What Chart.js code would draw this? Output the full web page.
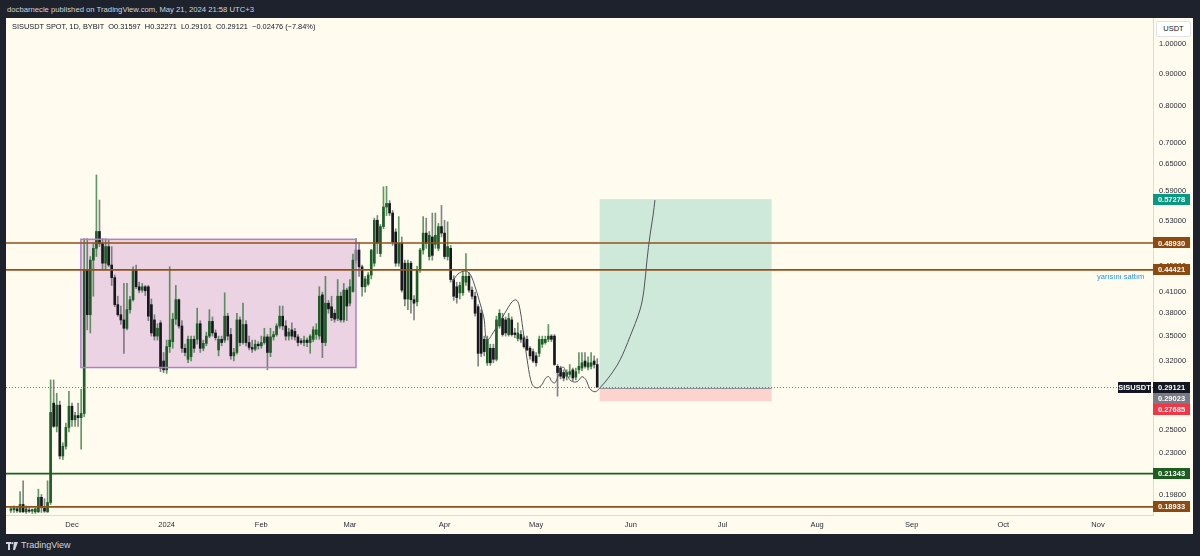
<!DOCTYPE html>
<html>
<head>
<meta charset="utf-8">
<script src="https://cdn.jsdelivr.net/npm/chart.js@4.4.1/dist/chart.umd.min.js"></script>
<style>
html,body{margin:0;padding:0;width:1200px;height:556px;overflow:hidden;background:#1e222d;font-family:"Liberation Sans",Arial,sans-serif;}
#hdr{position:absolute;left:7px;top:5px;font-size:7.7px;line-height:10px;color:#d1d4dc;white-space:nowrap;}
#panel{position:absolute;left:6px;top:18px;width:1187px;height:516px;background:#fffcef;}
#c{position:absolute;left:0;top:0;display:block;}
#legend{position:absolute;left:6px;top:4px;font-size:7.4px;line-height:10px;color:#131722;white-space:pre;}
#usdt{position:absolute;left:1150px;top:3px;width:33px;height:14px;background:#ffffff;border:1px solid #e0e3eb;border-radius:2px;font-size:7.5px;line-height:14px;text-align:center;color:#131722;}
#footer{position:absolute;left:6px;top:540px;font-size:9px;line-height:11px;color:#d1d4dc;white-space:nowrap;display:flex;align-items:center;gap:3px;}
#footer svg{display:block;}
</style>
</head>
<body>
<div id="hdr">docbarnecle published on TradingView.com, May 21, 2024 21:58 UTC+3</div>
<div id="panel">
  <canvas id="c" width="1187" height="516"></canvas>
  <div id="legend">SISUSDT SPOT, 1D, BYBIT  O0.31597  H0.32271  L0.29101  C0.29121  −0.02476 (−7.84%)</div>
  <div id="usdt">USDT</div>
</div>
<div id="footer"><svg width="12" height="8" viewBox="0 0 12 8"><rect x="0" y="0" width="5" height="2" fill="#d1d4dc"/><rect x="2" y="0" width="2" height="8" fill="#d1d4dc"/><circle cx="6.3" cy="1.2" r="1.1" fill="#d1d4dc"/><polygon points="8,0 12,0 9,8 7,8" fill="#d1d4dc"/></svg><span>TradingView</span></div>
<script>
// ---- data (days counted from 2023-11-01) ----
const FIRST_DAY = 10; // 2023-11-11
const opens = [.187,.1875,.188,.186,.191,.186,.187,.1865,.186,.186,
.196,.1885,.186,.1924,.275,.253,.273,.2274,.2355,.252,
.272,.259,.263,.261,.265,.444,.378,.460,.480,.510,
.488,.455,.483,.452,.432,.392,.378,.371,.360,.385,
.399,.444,.418,.413,.418,.418,.392,.371,.350,.367,
.320,.310,.337,.343,.372,.399,.363,.335,.322,.325,
.346,.346,.366,.335,.341,.350,.369,.354,.333,.346,
.345,.376,.352,.326,.330,.371,.342,.365,.342,.336,
.334,.340,.338,.342,.349,.330,.349,.352,.363,.376,
.363,.350,.358,.356,.349,.344,.342,.345,.342,.346,
.352,.350,.406,.342,.394,.389,.380,.373,.404,.371,
.413,.394,.411,.460,.477,.449,.418,.422,.436,.455,
.531,.471,.519,.557,.564,.545,.509,.455,.489,.455,
.400,.455,.399,.396,.444,.477,.507,.466,.500,.487,
.480,.519,.507,.466,.480,.429,.418,.409,.409,.425,
.434,.413,.404,.389,.380,.346,.318,.335,.335,.322,
.363,.373,.371,.352,.371,.354,.347,.352,.348,.346,
.335,.331,.326,.329,.340,.342,.346,.350,.350,.314,
.312,.307,.303,.305,.310,.302,.310,.312,.320,.313,
.314,.320,.31597];
const highs = [.189,.190,.189,.200,.208,.190,.189,.188,.1885,.2018,
.198,.195,.208,.299,.299,.285,.277,.2385,.256,.287,
.275,.266,.275,.289,.497,.497,.466,.489,.625,.571,
.497,.497,.494,.483,.436,.404,.390,.423,.423,.404,
.449,.452,.425,.423,.420,.420,.400,.378,.366,.370,
.330,.345,.449,.380,.420,.400,.370,.340,.350,.350,
.350,.387,.370,.345,.355,.385,.375,.358,.350,.350,
.409,.380,.360,.335,.380,.375,.394,.370,.350,.345,
.345,.343,.350,.360,.352,.360,.356,.366,.390,.390,
.370,.360,.367,.360,.352,.347,.350,.348,.352,.362,
.366,.418,.410,.434,.398,.404,.385,.429,.410,.423,
.416,.429,.470,.497,.490,.452,.434,.440,.478,.535,
.540,.523,.599,.600,.570,.550,.515,.538,.500,.460,
.460,.458,.405,.450,.480,.538,.535,.510,.545,.545,
.525,.560,.531,.528,.485,.435,.425,.425,.442,.471,
.440,.418,.410,.392,.385,.350,.350,.340,.340,.376,
.385,.380,.375,.380,.375,.360,.367,.357,.350,.350,
.337,.334,.330,.350,.350,.350,.365,.352,.352,.316,
.314,.310,.310,.316,.312,.312,.330,.330,.330,.325,
.330,.326,.32271];
const lows = [.1856,.1856,.1856,.1856,.1856,.1850,.1856,.1850,.1850,.1856,
.1856,.1856,.1856,.191,.252,.248,.225,.2245,.233,.248,
.253,.253,.253,.233,.262,.358,.354,.404,.466,.483,
.444,.444,.449,.420,.389,.376,.365,.329,.358,.380,
.397,.415,.409,.410,.405,.370,.350,.345,.345,.308,
.307,.306,.330,.335,.365,.360,.330,.326,.318,.320,
.330,.340,.330,.332,.338,.348,.350,.345,.326,.338,
.342,.345,.322,.320,.328,.338,.340,.338,.333,.330,
.332,.334,.335,.340,.310,.325,.345,.350,.360,.358,
.345,.345,.346,.345,.338,.340,.338,.337,.329,.343,
.346,.346,.324,.338,.380,.370,.368,.370,.368,.368,
.370,.390,.410,.455,.434,.404,.410,.420,.430,.450,
.471,.466,.515,.540,.540,.485,.450,.450,.410,.390,
.385,.380,.371,.390,.440,.470,.480,.460,.460,.480,
.476,.500,.462,.460,.425,.398,.394,.400,.405,.420,
.410,.400,.376,.314,.325,.326,.315,.315,.318,.320,
.360,.350,.350,.350,.350,.348,.344,.342,.335,.332,
.322,.318,.314,.325,.336,.340,.343,.343,.315,.282,
.300,.298,.299,.302,.298,.299,.306,.309,.312,.310,
.311,.312,.29101];
const closes = [.188,.1885,.1867,.191,.186,.188,.1865,.1875,.188,.196,
.189,.1865,.1924,.266,.253,.273,.2274,.2355,.252,.272,
.259,.263,.261,.265,.444,.378,.460,.480,.510,.488,
.455,.483,.452,.432,.392,.378,.371,.360,.385,.399,
.444,.418,.413,.418,.412,.376,.354,.350,.360,.312,
.310,.337,.345,.372,.399,.363,.335,.330,.346,.346,
.335,.366,.335,.341,.350,.369,.354,.348,.346,.342,
.376,.350,.326,.330,.371,.342,.365,.342,.336,.334,
.340,.338,.342,.349,.330,.349,.352,.363,.376,.363,
.350,.355,.350,.349,.342,.342,.345,.342,.350,.358,
.358,.404,.342,.394,.386,.374,.372,.404,.371,.413,
.390,.418,.460,.477,.449,.418,.430,.436,.477,.531,
.489,.519,.557,.564,.545,.491,.455,.489,.413,.400,
.455,.399,.394,.444,.477,.507,.489,.503,.468,.503,
.519,.507,.466,.483,.429,.404,.402,.420,.434,.434,
.413,.404,.380,.329,.329,.331,.346,.318,.322,.371,
.380,.352,.354,.373,.352,.352,.354,.346,.337,.333,
.326,.320,.318,.346,.346,.346,.350,.346,.316,.307,
.303,.301,.307,.308,.301,.308,.314,.318,.314,.318,
.318,.316,.29121];

// hand-drawn path (day, price)
const pathDays   = [154.8,156.4,158.7,160.3,161.6,163.3,164.9,165.9,168.5,171.8,174.1,175.4,176.4,177.7,179.3,180.6,182.0,183.6,185.2,186.2,187.2,188.2,189.5,190.8,192.1,193.4,195.4,197.0,198.3,199.6,201.3,202.9,206.2,209.5,212.7,216.0,217.3,218.3,219.3,220.3,220.9];
const pathPrices = [0.4269,0.4377,0.4425,0.4377,0.4238,0.3987,0.3737,0.3453,0.3580,0.3805,0.3959,0.3987,0.3916,0.3580,0.3157,0.2948,0.2906,0.2927,0.3013,0.3024,0.2970,0.2959,0.3057,0.3134,0.3046,0.2980,0.2970,0.3024,0.2991,0.2896,0.2865,0.2906,0.3035,0.3214,0.3491,0.3846,0.4133,0.4603,0.5036,0.5411,0.5710];

// axis ticks
const monthDays   = [30,61,92,121,152,182,213,243,274,305,335,366];
const monthLabels = ['Dec','2024','Feb','Mar','Apr','May','Jun','Jul','Aug','Sep','Oct','Nov'];
const priceTicks  = [1.0,0.9,0.8,0.7,0.65,0.59,0.53,0.45,0.41,0.38,0.35,0.32,0.25,0.23,0.198];

// drawings
const levelPrices = [0.48930,0.44421,0.21343,0.18933];
const levelColors = ['#93501a','#93501a','#1b5e20','#93501a'];
const rangeBox = {startDay:32.9,endDay:123.0,top:0.4958,bottom:0.3126};
const position = {startDay:202.8,endDay:259.1,entry:0.29023,target:0.57278,stop:0.27685};
const lastPrice = 0.29121;
const badgePrices = [0.57278,0.48930,0.44421,0.29121,0.29023,0.27685,0.21343,0.18933];
const badgeColors = ['#089981','#8b4a12','#8b4a12','#131722','#787b86','#f23645','#1b5e20','#8b4a12'];
const note = {text:'yarısını sattım',day:365.7,price:0.4325};

// view range
const X_MIN = 8.39, X_MAX = 384.0, Y_MIN = 0.1839, Y_MAX = 1.0992;

const days = opens.map((_, i) => FIRST_DAY + i);
const up = opens.map((o, i) => closes[i] >= o);

const overlay = {
  id:'overlay',
  beforeDatasetsDraw(chart){
    const {ctx, chartArea:a, scales:{x,y}} = chart;
    ctx.save();
    ctx.beginPath(); ctx.rect(a.left,a.top,a.right-a.left,a.bottom-a.top); ctx.clip();
    const px1 = x.getPixelForValue(position.startDay), px2 = x.getPixelForValue(position.endDay);
    const pe = y.getPixelForValue(position.entry), pt = y.getPixelForValue(position.target), ps = y.getPixelForValue(position.stop);
    ctx.fillStyle = 'rgba(8,153,129,0.2)'; ctx.fillRect(px1, pt, px2-px1, pe-pt);
    ctx.fillStyle = 'rgba(242,54,69,0.2)'; ctx.fillRect(px1, pe, px2-px1, ps-pe);
    const bx1 = x.getPixelForValue(rangeBox.startDay), bx2 = x.getPixelForValue(rangeBox.endDay);
    const by1 = y.getPixelForValue(rangeBox.top), by2 = y.getPixelForValue(rangeBox.bottom);
    ctx.fillStyle = 'rgba(156,39,176,0.19)'; ctx.fillRect(bx1, by1, bx2-bx1, by2-by1);
    ctx.restore();
  },
  afterDatasetsDraw(chart){
    const {ctx, chartArea:a, scales:{x,y}} = chart;
    ctx.save();
    ctx.beginPath(); ctx.rect(a.left,a.top,a.right-a.left,a.bottom-a.top); ctx.clip();
    const bx1 = x.getPixelForValue(rangeBox.startDay), bx2 = x.getPixelForValue(rangeBox.endDay);
    const by1 = y.getPixelForValue(rangeBox.top), by2 = y.getPixelForValue(rangeBox.bottom);
    ctx.strokeStyle = '#b27fca'; ctx.lineWidth = 1.5;
    ctx.strokeRect(bx1, by1, bx2-bx1, by2-by1);
    const px1 = x.getPixelForValue(position.startDay), px2 = x.getPixelForValue(position.endDay);
    const pe = Math.round(y.getPixelForValue(position.entry)) + 0.5;
    ctx.strokeStyle = '#8f929b'; ctx.lineWidth = 1;
    ctx.beginPath(); ctx.moveTo(px1, pe); ctx.lineTo(px2, pe); ctx.stroke();
    const lp = Math.round(y.getPixelForValue(lastPrice)) + 0.5;
    ctx.strokeStyle = '#787b86'; ctx.setLineDash([1,2]);
    ctx.beginPath(); ctx.moveTo(a.left, lp); ctx.lineTo(a.right, lp); ctx.stroke();
    ctx.setLineDash([]);
    levelPrices.forEach((p, i) => {
      const yy = y.getPixelForValue(p);
      ctx.strokeStyle = levelColors[i]; ctx.lineWidth = 1.6;
      ctx.beginPath(); ctx.moveTo(a.left, yy); ctx.lineTo(a.right, yy); ctx.stroke();
    });
    ctx.restore();
  },
  afterDraw(chart){
    const {ctx, chartArea:a, scales:{x,y}} = chart;
    ctx.save();
    ctx.font = '7.5px "Liberation Sans", Arial, sans-serif';
    ctx.fillStyle = '#2196f3'; ctx.textAlign = 'left'; ctx.textBaseline = 'middle';
    ctx.fillText(note.text, x.getPixelForValue(note.day), y.getPixelForValue(note.price));
    const items = badgePrices.map((p, i) => ({p, c: badgeColors[i], y: y.getPixelForValue(p)})).sort((m, n) => m.y - n.y);
    const H = 11;
    for (let i = 1; i < items.length; i++) {
      if (items[i].y < items[i-1].y + H) items[i].y = items[i-1].y + H;
    }
    const bw = chart.width - a.right;
    ctx.font = 'bold 7.5px "Liberation Sans", Arial, sans-serif';
    ctx.textAlign = 'center'; ctx.textBaseline = 'middle';
    items.forEach(it => {
      ctx.fillStyle = it.c;
      ctx.fillRect(a.right, Math.round(it.y - H/2), bw - 3, H);
      ctx.fillStyle = '#ffffff';
      ctx.fillText(it.p.toFixed(5), a.right + (bw - 3)/2, it.y + 0.5);
    });
    const ly = y.getPixelForValue(lastPrice);
    ctx.fillStyle = '#131722';
    ctx.fillRect(a.right - 35, Math.round(ly - H/2), 33, H);
    ctx.fillStyle = '#ffffff';
    ctx.fillText('SISUSDT', a.right - 18.5, ly + 0.5);
    ctx.restore();
  }
};

const tickFont = {family:'"Liberation Sans", Arial, sans-serif', size:7.5};

new Chart(document.getElementById('c'), {
  type:'bar',
  data:{
    datasets:[
      {type:'line', label:'path', data: pathDays.map((d, i) => ({x:d, y:pathPrices[i]})),
        borderColor:'#50545c', borderWidth:1, pointRadius:0, tension:0.35, fill:false, order:0},
      {label:'body', data: days.map((d, i) => ({x:d, y:[Math.min(opens[i], closes[i]), Math.max(opens[i], closes[i])]})),
        backgroundColor: up.map(u => u ? '#1d5e27' : '#17181e'), barThickness:2, minBarLength:1, grouped:false, order:1},
      {label:'wick', data: days.map((d, i) => ({x:d, y:[lows[i], highs[i]]})),
        backgroundColor: up.map(u => u ? 'rgba(40,120,50,0.75)' : 'rgba(100,100,108,0.8)'), barThickness:1, grouped:false, order:2}
    ]
  },
  options:{
    responsive:false, animation:false, devicePixelRatio:1, events:[],
    layout:{padding:0},
    plugins:{legend:{display:false}, tooltip:{enabled:false}},
    scales:{
      x:{type:'linear', min:X_MIN, max:X_MAX, bounds:'data', offset:false,
        grid:{display:false, drawTicks:false},
        border:{display:true, color:'#d9dadb', width:1},
        ticks:{autoSkip:false, maxRotation:0, padding:5, color:'#2a2e39', font:tickFont,
          callback:(v, i) => monthLabels[i]},
        afterBuildTicks:s => { s.ticks = monthDays.map(v => ({value:v})); },
        afterFit:s => { s.height = 19; s.paddingLeft = 0; s.paddingRight = 0; }
      },
      y:{type:'logarithmic', position:'right', min:Y_MIN, max:Y_MAX, bounds:'data',
        grid:{display:false, drawTicks:false},
        border:{display:true, color:'#d9dadb', width:1},
        ticks:{autoSkip:false, padding:6, color:'#2a2e39', font:tickFont,
          callback:v => Number(v).toFixed(5)},
        afterBuildTicks:s => { s.ticks = priceTicks.map(v => ({value:v})); },
        afterFit:s => { s.width = 40; s.paddingTop = 0; s.paddingBottom = 0; }
      }
    }
  },
  plugins:[overlay]
});
</script>
</body>
</html>
